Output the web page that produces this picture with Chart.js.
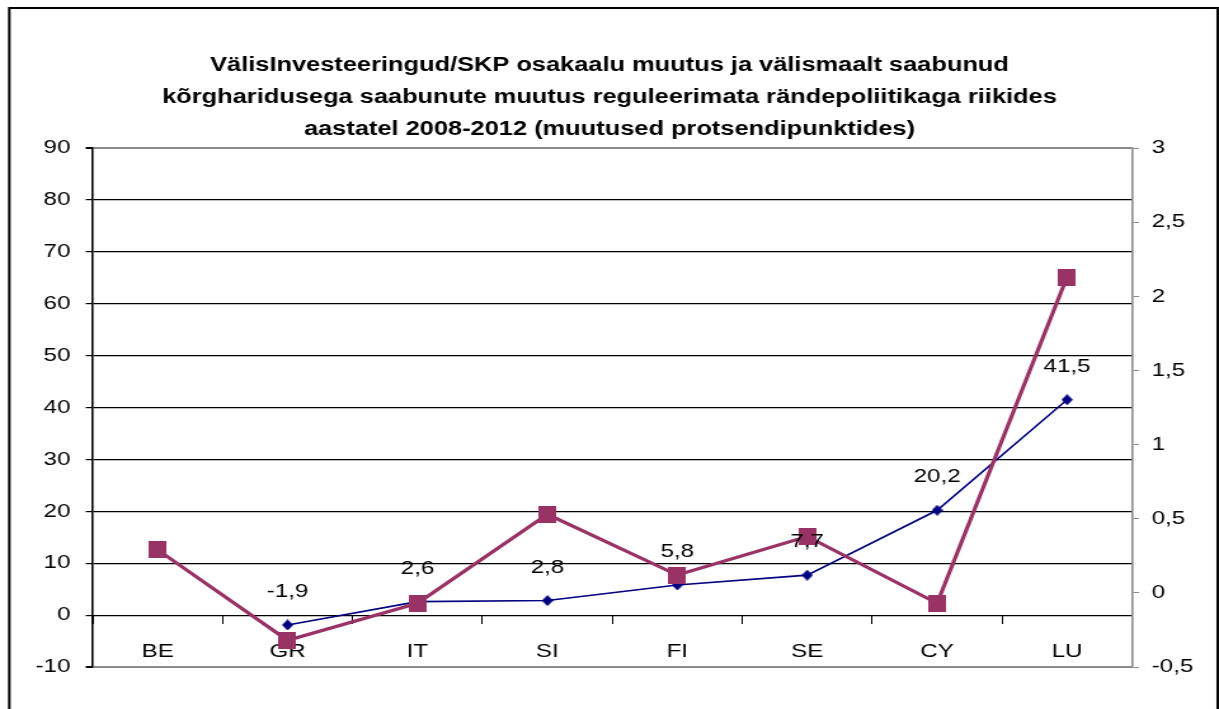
<!DOCTYPE html>
<html><head><meta charset="utf-8">
<script src="https://cdn.jsdelivr.net/npm/chart.js@4/dist/chart.umd.min.js"></script>
<style>
html,body{margin:0;padding:0;background:#fff;overflow:hidden;width:1219px;height:709px}
#wrap{position:absolute;left:0;top:0;width:960px;height:709px;transform-origin:0 0;transform:scaleX(1.2697917)}
#c{display:block}
</style>
</head><body>
<div id="wrap"><canvas id="c" width="960" height="709"></canvas></div>
<script>
const categories = ['BE', 'GR', 'IT', 'SI', 'FI', 'SE', 'CY', 'LU'];
const investValues = [null, -1.9, 2.6, 2.8, 5.8, 7.7, 20.2, 41.5];
const educatedValues = [0.29, -0.32, -0.07, 0.53, 0.12, 0.38, -0.07, 2.13];
const leftAxisRange = [-10, 90, 10];
const rightAxisRange = [-0.5, 3, 0.5];
const titleLines = [
  'VälisInvesteeringud/SKP osakaalu muutus ja välismaalt saabunud',
  'kõrgharidusega saabunute muutus reguleerimata rändepoliitikaga riikides',
  'aastatel 2008-2012 (muutused protsendipunktides)'
];

const S = 1219 / 960; // horizontal stretch of the reference picture
const FONT = '"Liberation Sans", Arial, sans-serif';
const comma = v => String(v).replace('.', ',');

function makeMarker(w, h, color, shape) {
  const c = document.createElement('canvas');
  c.width = w; c.height = h;
  const g = c.getContext('2d');
  g.fillStyle = color;
  if (shape === 'square') {
    g.fillRect(0, 0, w, h);
  } else {
    g.beginPath();
    g.moveTo(w / 2, 0); g.lineTo(w, h / 2); g.lineTo(w / 2, h); g.lineTo(0, h / 2);
    g.closePath(); g.fill();
  }
  return c;
}
const squareMarker = makeMarker(14, 17, '#993366', 'square');
const diamondMarker = makeMarker(9, 11, '#000080', 'diamond');

const frame = {
  id: 'frame',
  beforeDraw(chart) {
    const ctx = chart.ctx;
    ctx.save();
    ctx.fillStyle = '#fff';
    ctx.fillRect(0, 0, chart.width, chart.height);
    ctx.restore();
  },
  afterDraw(chart) {
    const ctx = chart.ctx;
    ctx.save();
    ctx.strokeStyle = '#000';
    ctx.lineWidth = 2;
    ctx.strokeRect(9.3 / S, 8, 1208.4 / S, 740);
    ctx.restore();
  }
};

const valueLabels = {
  id: 'valueLabels',
  afterDatasetsDraw(chart) {
    const meta = chart.getDatasetMeta(1);
    const ctx = chart.ctx;
    ctx.save();
    ctx.font = '19px ' + FONT;
    ctx.fillStyle = '#000';
    ctx.textAlign = 'center';
    ctx.textBaseline = 'middle';
    meta.data.forEach((pt, i) => {
      const v = investValues[i];
      if (v === null || v === undefined) return;
      ctx.fillText(comma(v), pt.x, pt.y - 33);
    });
    ctx.restore();
  }
};

new Chart(document.getElementById('c'), {
  type: 'line',
  data: {
    labels: categories,
    datasets: [
      {
        label: 'Välismaalt saabunud kõrgharidusega',
        data: educatedValues,
        yAxisID: 'y2',
        borderColor: '#993366',
        backgroundColor: '#993366',
        borderWidth: 3.2,
        pointStyle: squareMarker,
        pointRadius: 8,
        tension: 0,
        order: 0
      },
      {
        label: 'VälisInvesteeringud/SKP',
        data: investValues,
        yAxisID: 'y',
        borderColor: '#000080',
        backgroundColor: '#000080',
        borderWidth: 1.6,
        pointStyle: diamondMarker,
        pointRadius: 5,
        tension: 0,
        order: 1
      }
    ]
  },
  options: {
    responsive: false,
    animation: false,
    devicePixelRatio: 1,
    layout: { padding: { left: 0, right: 0, top: 0, bottom: 42 } },
    plugins: {
      legend: { display: false },
      tooltip: { enabled: false },
      title: {
        display: true,
        text: titleLines,
        color: '#000',
        font: { family: FONT, size: 20, weight: 'bold', lineHeight: 1.6 },
        padding: { top: 49, bottom: 3 }
      }
    },
    scales: {
      x: {
        type: 'category',
        position: { y: 0 },
        offset: true,
        grid: { drawOnChartArea: false, offset: true, tickLength: 8, color: '#000', lineWidth: 1 },
        border: { color: '#000', width: 1 },
        ticks: { color: '#000', font: { family: FONT, size: 19 }, padding: 17, maxRotation: 0 }
      },
      y: {
        position: 'left',
        min: leftAxisRange[0],
        max: leftAxisRange[1],
        afterFit(scale) { scale.width = 92.7 / S; },
        ticks: {
          stepSize: leftAxisRange[2],
          color: '#000',
          font: { family: FONT, size: 19 },
          padding: 12,
          callback: v => comma(v)
        },
        grid: {
          color: c => (c.tick && (c.tick.value === 90 || c.tick.value === -10)) ? '#8c8c8c' : '#000',
          lineWidth: c => (c.tick && (c.tick.value === 90 || c.tick.value === -10)) ? 2 : 1.2,
          tickColor: '#000',
          tickLength: 5.5
        },
        border: { color: '#000', width: 1.6 }
      },
      y2: {
        position: 'right',
        min: rightAxisRange[0],
        max: rightAxisRange[1],
        afterFit(scale) { scale.width = 960 - 1132 / S; },
        ticks: {
          stepSize: rightAxisRange[2],
          color: '#000',
          font: { family: FONT, size: 19 },
          padding: 10,
          callback: v => comma(v)
        },
        grid: { drawOnChartArea: false, color: '#8c8c8c', tickColor: '#8c8c8c', tickLength: 5.5 },
        border: { color: '#8c8c8c', width: 1.6 }
      }
    }
  },
  plugins: [frame, valueLabels]
});
</script>
</body></html>
